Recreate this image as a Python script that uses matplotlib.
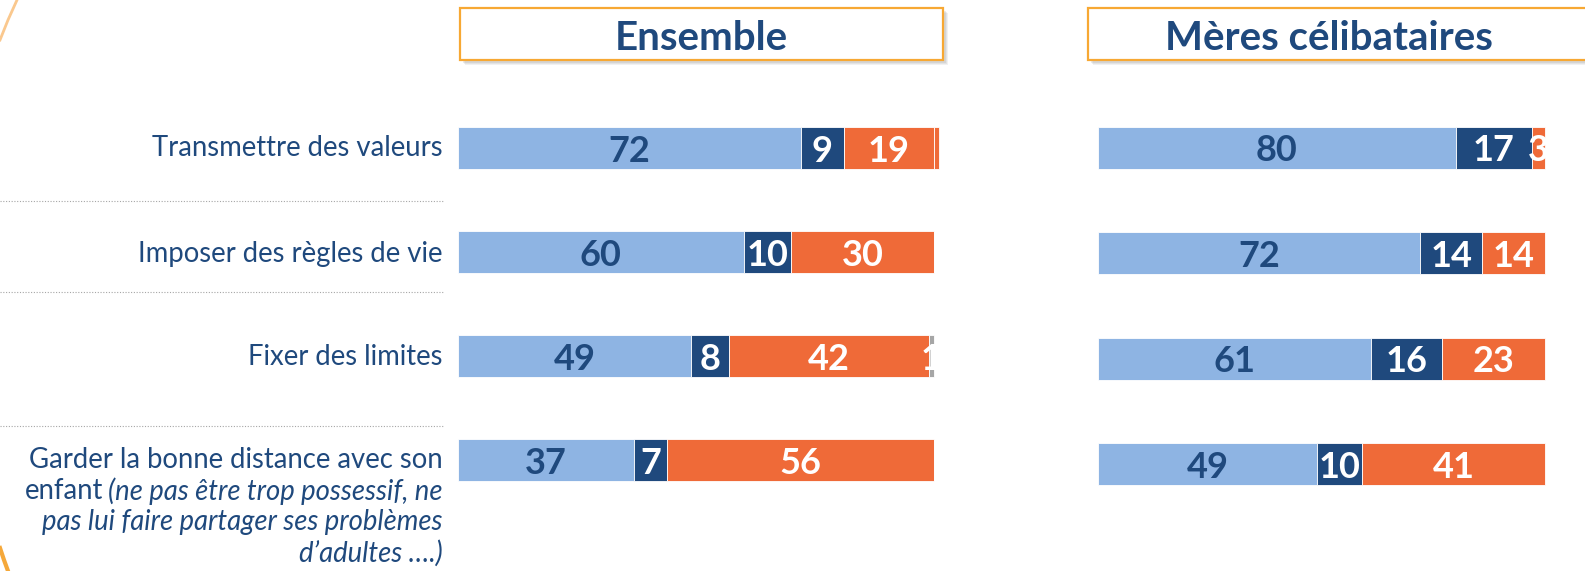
import numpy as np
import matplotlib
matplotlib.use("Agg")
import matplotlib.pyplot as plt
from matplotlib.patches import Rectangle

W, H = 1585, 571

categories = ["Transmettre des valeurs",
              "Imposer des règles de vie",
              "Fixer des limites",
              "Garder la bonne distance"]

# Ensemble
ens_1 = [72, 60, 49, 37]
ens_2 = [9, 10, 8, 7]
ens_3 = [19, 30, 42, 56]
ens_4 = [1, 0, 1, 0]

# Mères célibataires
mer_1 = [80, 72, 61, 49]
mer_2 = [17, 14, 16, 10]
mer_3 = [3, 14, 23, 41]

titles = ["Ensemble", "Mères célibataires"]

NAVY = "#1F497D"
LIGHT = "#8EB4E3"
ORANGE = "#EF6A38"
GREY = "#A6A6A6"
FONT = "Lato"
LAB_FS = 19.8


def px(x0, y0, x1, y1):
    # pixel box -> figure fraction rect
    return [x0 / W, 1 - y1 / H, (x1 - x0) / W, (y1 - y0) / H]


def panel(ax, series, colors, txtcolors):
    n = len(categories)
    y = np.arange(n)
    totals = np.sum([np.array(s, float) for s in series], axis=0)
    left = np.zeros(n)
    hgt = 0.40
    for vals, col, tc in zip(series, colors, txtcolors):
        vals = np.array(vals, float)
        ax.barh(y, vals, left=left, height=hgt, color=col,
                edgecolor="white", linewidth=0.6, clip_on=False)
        for i in range(n):
            xc = left[i] + vals[i] / 2
            if vals[i] <= 0 or xc > 100:
                continue
            t = ax.text(xc, y[i], str(int(vals[i])),
                        ha="center", va="center_baseline", color=tc,
                        fontsize=26, fontweight="bold", family=FONT)
            t.set_clip_path(Rectangle((0, y[i] - hgt / 2), totals[i], hgt,
                                      transform=ax.transData))
        left += vals
    ax.set_xlim(0, 100)
    ax.set_ylim(n - 0.5, -0.5)
    ax.axis("off")


fig = plt.figure(figsize=(W / 100, H / 100), dpi=100)

# bits of the slide's decorative ring at the left edge
fig.add_artist(plt.Line2D([17 / W, 8 / W, 0], [1, 1 - 20 / H, 1 - 40 / H],
                          transform=fig.transFigure, color="#FAC88E", lw=2))
fig.add_artist(plt.Line2D([0, 4 / W, 8 / W], [1 - 548 / H, 1 - 560 / H, 0],
                          transform=fig.transFigure, color="#F5A83A", lw=3))

ax1 = fig.add_axes(px(458, 96, 934, 512))
panel(ax1, [ens_1, ens_2, ens_3, ens_4],
      [LIGHT, NAVY, ORANGE, [ORANGE, GREY, GREY, GREY]],
      [NAVY, "white", "white", "white"])

ax2 = fig.add_axes(px(1098, 95, 1545, 517))
panel(ax2, [mer_1, mer_2, mer_3],
      [LIGHT, NAVY, ORANGE],
      [NAVY, "white", "white"])

# title boxes
for (x0, x1, xc), title in zip([(460, 943, 701), (1088, 1592, 1329)], titles):
    for k, a in enumerate([0.10, 0.12, 0.15]):
        d = 5 - k
        fig.patches.append(Rectangle(((x0 + d) / W, 1 - (60 + d) / H), (x1 - x0) / W, 52 / H,
                                     transform=fig.transFigure, facecolor="#7F7F7F",
                                     edgecolor="none", alpha=a))
    fig.patches.append(Rectangle((x0 / W, 1 - 60 / H), (x1 - x0) / W, 52 / H,
                                 transform=fig.transFigure, facecolor="white",
                                 edgecolor="#F7A833", lw=1.6))
    fig.text(xc / W, 1 - 35 / H, title, ha="center", va="center_baseline",
             fontsize=29, fontweight="bold", color=NAVY, family=FONT)

# row labels
lab_x = 443 / W
for i, yc in enumerate([148, 254, 357]):
    fig.text(lab_x, 1 - yc / H, categories[i], ha="right", va="center",
             fontsize=LAB_FS, color=NAVY, family=FONT)

fig.text(lab_x, 1 - 460 / H, "Garder la bonne distance avec son", ha="right",
         va="center", fontsize=LAB_FS, color=NAVY, family=FONT)
it = fig.text(lab_x, 1 - 491 / H, "(ne pas être trop possessif, ne", ha="right",
              va="center", fontsize=LAB_FS, color=NAVY, family=FONT, style="italic")
fig.text(lab_x, 1 - 522 / H, "pas lui faire partager ses problèmes", ha="right",
         va="center", fontsize=LAB_FS, color=NAVY, family=FONT, style="italic")
fig.text(lab_x, 1 - 553 / H, "d\u2019adultes \u2026.)", ha="right",
         va="center", fontsize=LAB_FS, color=NAVY, family=FONT, style="italic")
r = fig.canvas.get_renderer()
bb = it.get_window_extent(renderer=r)
fig.text((bb.x0 - 5) / W, 1 - 491 / H, "enfant", ha="right", va="center",
         fontsize=LAB_FS, color=NAVY, family=FONT)

# dotted separators
for ys in [201, 292, 426]:
    fig.add_artist(plt.Line2D([0, lab_x], [1 - ys / H] * 2, transform=fig.transFigure,
                              color="#A6A6A6", lw=0.8, ls=(0, (1, 1.5))))

fig.savefig("out.png", dpi=100)
